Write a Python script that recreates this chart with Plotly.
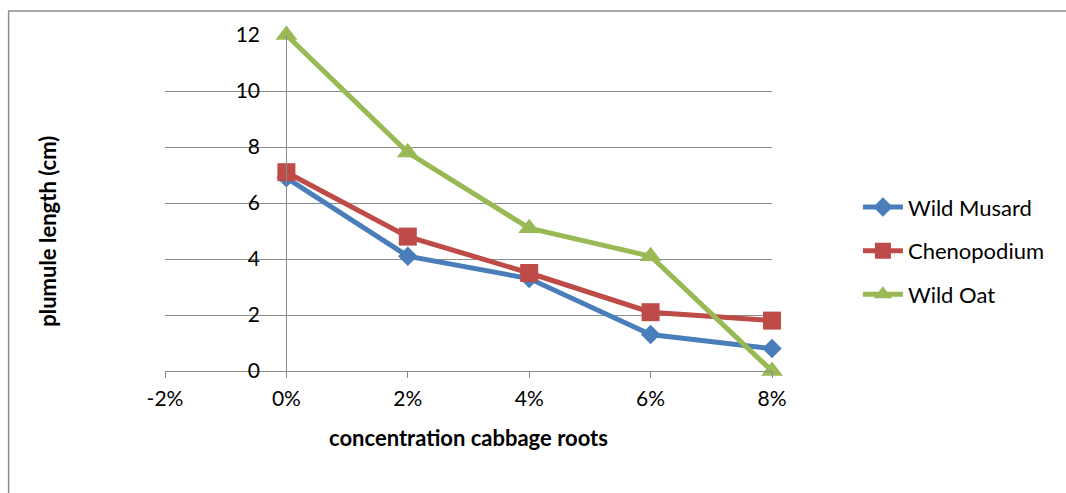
import plotly.graph_objects as go

# Concentration of cabbage root extract (%)
concentration = [0, 2, 4, 6, 8]

# Plumule length (cm) per weed species
wild_musard = [6.9, 4.1, 3.3, 1.3, 0.8]
chenopodium = [7.1, 4.8, 3.5, 2.1, 1.8]
wild_oat = [12.0, 7.8, 5.1, 4.1, 0.0]

x_tick_vals = [-2, 0, 2, 4, 6, 8]
x_tick_text = ["-2%", "0%", "2%", "4%", "6%", "8%"]
y_tick_vals = [0, 2, 4, 6, 8, 10, 12]

FONT = "Lato"
FS = 21
GRID = "#8a8a8a"

series = [
    ("Wild Musard", wild_musard, "#4A7EBB", "diamond", 15),
    ("Chenopodium", chenopodium, "#BE4B48", "square", 18),
    ("Wild Oat", wild_oat, "#98B954", "triangle-up", 19),
]

fig = go.Figure()
for i, (name, vals, color, symbol, size) in enumerate(series):
    fig.add_trace(go.Scatter(
        x=concentration, y=vals, name=name, mode="lines+markers",
        line=dict(color=color, width=5),
        marker=dict(symbol=symbol, size=size, color=color),
        legendgroup=f"g{i}",
        cliponaxis=False,
    ))

L, R, T, B = 164.5, 294, 34.5, 122
W, H = 1066, 493
pw = W - L - R
ph = H - T - B

fig.update_layout(
    width=W, height=H,
    margin=dict(l=L, r=R, t=T, b=B, pad=0),
    paper_bgcolor="white", plot_bgcolor="white",
    font=dict(family=FONT, size=FS, color="black"),
    showlegend=True,
    legend=dict(
        x=(858 - L) / pw, y=(371 - 186) / ph, xanchor="left", yanchor="top",
        font=dict(family=FONT, size=22, color="black"),
        tracegroupgap=12, itemwidth=40, bgcolor="rgba(0,0,0,0)",
    ),
    xaxis=dict(
        range=[-2, 8], tickvals=x_tick_vals, ticktext=x_tick_text,
        showgrid=False, zeroline=False,
        showline=True, linecolor=GRID, linewidth=1.3,
        ticks="outside", ticklen=6, tickcolor=GRID, tickwidth=1.3,
        ticklabelstandoff=3,
        title=dict(text="<b>concentration cabbage roots</b>",
                   font=dict(family=FONT, size=22), standoff=21),
    ),
    yaxis=dict(
        range=[0, 12], tickvals=y_tick_vals,
        showgrid=True, gridcolor=GRID, gridwidth=1.3, zeroline=False,
        showline=True, linecolor=GRID, linewidth=1.3,
        anchor="free", position=0.2,
        ticks="", ticklabelstandoff=22,
        title=dict(text=""),
    ),
    shapes=[dict(
        type="rect", xref="paper", yref="paper",
        x0=(8 - L) / pw, x1=2.0, y0=-1.0, y1=(371 - 10.5) / ph,
        line=dict(color="#8c8c8c", width=1.5), fillcolor="rgba(0,0,0,0)",
        layer="below",
    )],
    annotations=[dict(
        text="<b>plumule length (cm)</b>", textangle=-90,
        xref="paper", yref="paper",
        x=(47 - L) / pw, y=(371 - 231) / ph,
        xanchor="center", yanchor="middle", showarrow=False,
        font=dict(family=FONT, size=22, color="black"),
    )],
)

fig.write_html("out.html")
